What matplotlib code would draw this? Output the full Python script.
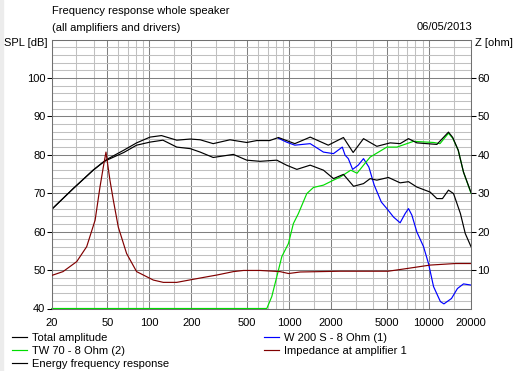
import matplotlib
matplotlib.use("Agg")
import matplotlib.pyplot as plt
from matplotlib.patches import Rectangle

plt.rcParams["font.family"] = ["Liberation Sans", "DejaVu Sans"]
plt.rcParams["font.size"] = 8

# readings: frequency in Hz, level in dB, impedance in ohm
total_f = [20, 28.5, 39.6, 46.8, 49.6, 65.6, 81, 101, 122, 157, 196, 231, 286,
           377, 497, 586, 726, 838, 957, 1098, 1414, 1905, 2445, 2870, 3404,
           4240, 5280, 6222, 7141, 8200, 11400, 13800, 14800, 16200, 17670, 20000]
total_db = [65.8, 71.2, 76.0, 78.1, 78.8, 81.2, 83.1, 84.6, 85.0, 83.8, 84.1,
            83.9, 82.9, 83.9, 83.2, 83.7, 83.7, 84.5, 83.7, 82.9, 84.6, 82.5,
            84.5, 80.6, 84.2, 82.2, 83.1, 82.9, 84.2, 83.1, 82.7, 85.9, 84.5,
            81.2, 75.5, 70.2]

energy_f = [20, 28.5, 39.6, 46.8, 49.6, 65.6, 81, 101, 125, 157, 196, 231, 286,
            399, 497, 619, 816, 957, 1135, 1414, 1759, 2075, 2445, 2890, 3404,
            3798, 4240, 5130, 6222, 7141, 8200, 10200, 11400, 12500, 13800,
            15000, 16800, 18200, 20000]
energy_db = [65.8, 71.2, 76.0, 78.1, 78.6, 80.6, 82.5, 83.3, 83.8, 82.0, 81.6,
             80.7, 79.3, 80.1, 78.6, 78.3, 78.6, 77.3, 76.2, 77.3, 76.0, 73.8,
             74.9, 71.8, 72.5, 73.8, 73.4, 74.1, 72.7, 73.0, 71.6, 70.3, 68.6,
             68.6, 70.8, 69.9, 64.7, 59.5, 56.1]

woofer_f = [838, 957, 1098, 1414, 1759, 2075, 2400, 2513, 2650, 2845, 3120,
            3404, 3718, 4060, 4565, 5000, 5580, 6222, 6758, 7141, 7550, 8200,
            9150, 9930, 10790, 12080, 12800, 14500, 16000, 17670, 20000]
woofer_db = [84.3, 83.3, 82.5, 82.9, 80.7, 80.3, 82.0, 79.9, 79.0, 76.2, 77.3,
             79.0, 76.8, 72.1, 67.7, 66.0, 63.8, 62.3, 64.7, 66.0, 64.3, 59.9,
             56.1, 51.7, 45.7, 41.8, 41.2, 42.6, 45.2, 46.4, 46.1]

tweeter_f = [20, 692, 751, 816, 886, 988, 1072, 1164, 1337, 1492, 1759, 2075,
             2316, 2760, 3060, 3404, 3798, 5000, 5900, 7757, 10790, 12000,
             13800, 14800, 16200, 17670, 20000]
tweeter_db = [40, 40, 43.1, 48.3, 53.5, 56.9, 62.1, 64.7, 69.9, 71.5, 72.1,
              73.4, 74.2, 76.0, 75.2, 77.3, 79.4, 82.0, 82.0, 83.5, 83.2, 82.9,
              85.6, 84.3, 81.2, 75.5, 70.0]

imp_f = [20, 24.1, 30.2, 35.6, 40.9, 44.3, 46.8, 48.9, 52.2, 55.2, 59.9, 68.7,
         81, 106.7, 125.8, 157, 206, 272, 303, 399, 471, 619, 860, 990, 1200,
         2316, 5107, 6952, 10200, 15400, 20000]
imp_ohm = [8.6, 9.6, 12.2, 16.1, 23.0, 31.6, 36.8, 40.7, 33.4, 28.2, 21.2, 14.3,
           9.6, 7.4, 6.8, 6.8, 7.6, 8.4, 8.7, 9.6, 9.9, 9.9, 9.6, 9.1, 9.5,
           9.7, 9.7, 10.4, 11.3, 11.7, 11.7]

x_major = [20, 50, 100, 200, 500, 1000, 2000, 5000, 10000, 20000]
x_minor = [30, 40, 60, 70, 80, 90, 150, 300, 400, 600, 700, 800, 900, 1500,
           3000, 4000, 6000, 7000, 8000, 9000, 15000]
spl_ticks = [40, 50, 60, 70, 80, 90, 100]
z_ticks = [10, 20, 30, 40, 50, 60]

W, H = 519, 371
fig = plt.figure(figsize=(W / 100, H / 100), dpi=100)
fig.patches.append(Rectangle((0, 0), 3 / W, 1, transform=fig.transFigure,
                             color="#ececec", zorder=0))

left, right, top, bottom = 51.7, 471.0, 39.5, 308.5
ax = fig.add_axes([left / W, 1 - bottom / H, (right - left) / W, (bottom - top) / H])
ax.set_xscale("log")
ax.set_xlim(20, 20000)
ax.set_ylim(40, 110)
ax.set_xticks(x_major)
ax.set_xticklabels([str(v) for v in x_major])
ax.set_xticks(x_minor, minor=True)
ax.set_xticklabels([], minor=True)
ax.set_yticks(spl_ticks)
ax.set_yticks(range(40, 111, 2), minor=True)
ax.grid(True, which="minor", color="#c0c0c0", linewidth=0.75)
ax.grid(True, which="major", color="#808080", linewidth=0.75)
ax.set_axisbelow(True)
ax.tick_params(axis="x", which="both", length=0, pad=6.5)
ax.tick_params(axis="y", which="major", length=3.5, width=0.75, pad=1,
               color="black")
ax.tick_params(axis="y", which="minor", length=0)
for s in ax.spines.values():
    s.set_color("#707070")
    s.set_linewidth(0.75)

lw = 0.85
h_w, = ax.plot(woofer_f, woofer_db, color="#0000ff", lw=lw, label="W 200 S - 8 Ohm (1)")
h_tw, = ax.plot(tweeter_f, tweeter_db, color="#00dd00", lw=lw, clip_on=False,
                label="TW 70 - 8 Ohm (2)")
h_tot, = ax.plot(total_f, total_db, color="black", lw=lw, label="Total amplitude")
h_en, = ax.plot(energy_f, energy_db, color="black", lw=lw,
                label="Energy frequency response")

az = ax.twinx()
az.set_ylim(0, 70)
az.set_yticks(z_ticks)
az.tick_params(axis="y", length=3.5, width=0.75, pad=1, color="black")
for s in az.spines.values():
    s.set_visible(False)
h_imp, = az.plot(imp_f, imp_ohm, color="#800000", lw=lw, label="Impedance at amplifier 1")

fig.text(52 / W, 1 - 11.5 / H, "Frequency response whole speaker", va="center")
fig.text(52 / W, 1 - 28 / H, "(all amplifiers and drivers)", va="center")
fig.text(472 / W, 1 - 27 / H, "06/05/2013", va="center", ha="right")
fig.text(4 / W, 1 - 43.5 / H, "SPL [dB]", va="center")
fig.text(475 / W, 1 - 43.5 / H, "Z [ohm]", va="center")

leg_kw = dict(loc="upper left", frameon=False, handlelength=1.35,
              handletextpad=0.45, labelspacing=0.28, borderaxespad=0,
              borderpad=0, fontsize=8)
fig.legend(handles=[h_tot, h_tw, h_en], bbox_to_anchor=(11.5 / W, 1 - 333 / H), **leg_kw)
fig.legend(handles=[h_w, h_imp], bbox_to_anchor=(264 / W, 1 - 333 / H), **leg_kw)

fig.savefig("out.png", dpi=100)
